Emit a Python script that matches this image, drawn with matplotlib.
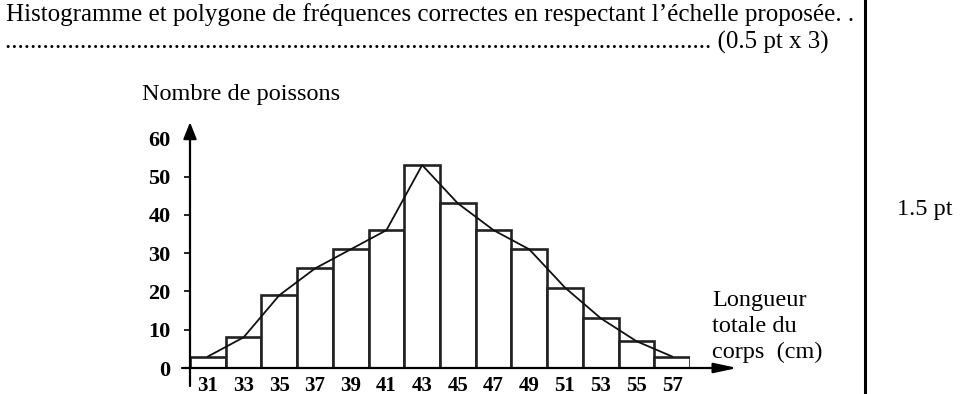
import matplotlib
matplotlib.use('Agg')
import matplotlib.pyplot as plt
from matplotlib.lines import Line2D

# classes (centres, cm) and number of fish
centres = [31, 33, 35, 37, 39, 41, 43, 45, 47, 49, 51, 53, 55, 57]
effectifs = [3, 8, 19, 26, 31, 36, 53, 43, 36, 31, 21, 13, 7, 3]
yticks = [0, 10, 20, 30, 40, 50, 60]

header1 = "Histogramme et polygone de fréquences correctes en respectant l\u2019échelle proposée. ."
header2 = "." * 113 + " (0.5 pt x 3)"
ylabel = "Nombre de poissons"
xlabel = "Longueur\ntotale du\ncorps  (cm)"
bareme = "1.5 pt"

W, H = 970, 394
serif = "Liberation Serif"


def fx(x):
    return x / W


def fy(y):
    return 1 - y / H


fig = plt.figure(figsize=(W / 100, H / 100), dpi=100)
ax = fig.add_axes([fx(190), fy(368), 500 / W, 245 / H])
ax.set_xlim(30, 58)
ax.set_ylim(0, 64)
for s in ax.spines.values():
    s.set_visible(False)

ax.bar(centres, effectifs, width=2, color='white', edgecolor='#222222', linewidth=1.9, zorder=2)
ax.plot(centres, effectifs, color='#111111', linewidth=1.3, zorder=3)

# axes with arrows
ax.annotate('', xy=(30, 64.2), xytext=(30, -4.7), annotation_clip=False,
            arrowprops=dict(arrowstyle='-|>,head_length=1.0,head_width=0.4', color='black', lw=1.6,
                            shrinkA=0, shrinkB=0))
ax.annotate('', xy=(60.65, 0), xytext=(29.55, 0), annotation_clip=False,
            arrowprops=dict(arrowstyle='-|>,head_length=1.4,head_width=0.3', color='black', lw=1.6,
                            shrinkA=0, shrinkB=0), zorder=4)

ax.set_yticks(yticks)
ax.set_yticklabels([str(v) for v in yticks], fontfamily=serif, fontweight='bold', fontsize=16)
ax.set_xticks(centres)
ax.set_xticklabels([str(c) for c in centres], fontfamily=serif, fontweight='bold', fontsize=15)
ax.tick_params(axis='y', direction='out', length=4, width=1.2, pad=10)
ax.tick_params(axis='x', length=0, pad=5.5)

fig.text(fx(6), fy(21), header1, fontfamily=serif, fontsize=18, va='baseline', ha='left')
fig.text(fx(829), fy(49), header2, fontfamily=serif, fontsize=18, va='baseline', ha='right')
fig.text(fx(142), fy(100), ylabel, fontfamily=serif, fontsize=17.5, va='baseline', ha='left')
fig.text(fx(712), fy(358), xlabel, fontfamily=serif, fontsize=17.5, va='baseline', ha='left',
         linespacing=1.3)
fig.text(fx(897), fy(215), bareme, fontfamily=serif, fontsize=17.5, va='baseline', ha='left')

fig.add_artist(Line2D([fx(865), fx(865)], [0, 1], transform=fig.transFigure, color='black', lw=2.2))

fig.savefig('out.png', dpi=100, facecolor='white')
